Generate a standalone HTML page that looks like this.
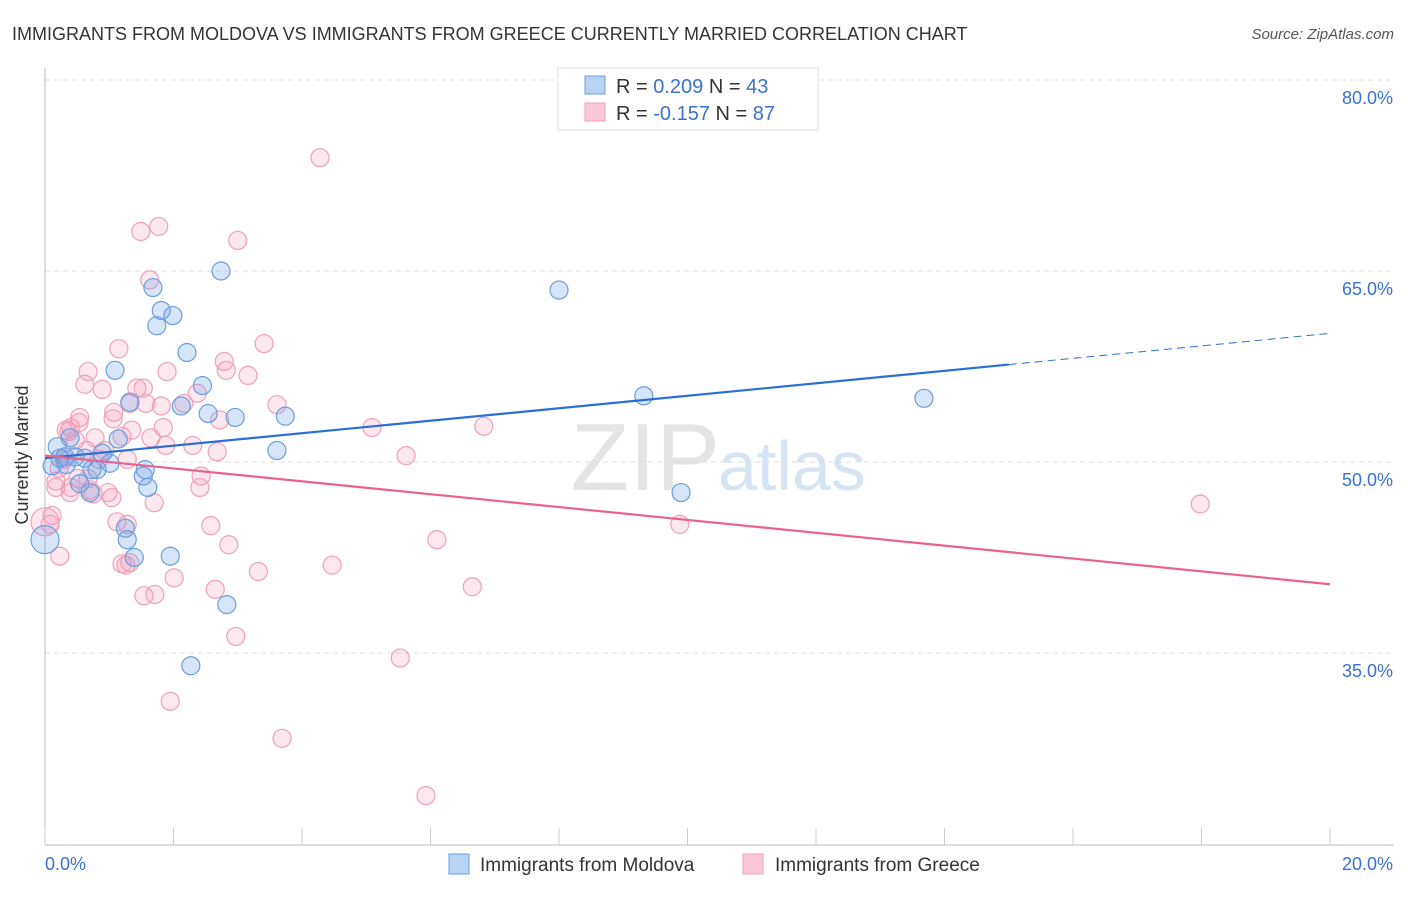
<!DOCTYPE html>
<html><head><meta charset="utf-8"><style>
body{margin:0;background:#fff;font-family:"Liberation Sans",sans-serif;}
svg text{font-family:"Liberation Sans",sans-serif;}
</style></head><body>
<svg id="chart" width="1406" height="892">
<text x="12" y="40" font-size="18" fill="#333">IMMIGRANTS FROM MOLDOVA VS IMMIGRANTS FROM GREECE CURRENTLY MARRIED CORRELATION CHART</text>
<text x="1394" y="39" font-size="15" fill="#555" font-style="italic" text-anchor="end">Source: ZipAtlas.com</text>
<text x="720" y="490" font-size="96" fill="#e4e4e4" text-anchor="end" font-family="Liberation Serif">ZIP</text>
<text x="718" y="490" font-size="70" fill="#d6e4f4">atlas</text>
<g id="grid"></g><g id="axes"></g><g id="pts"></g><g id="lines"></g>
<text x="28" y="455" font-size="18" fill="#333" text-anchor="middle" transform="rotate(-90 28 455)">Currently Married</text>
<g>
<rect x="558" y="68" width="260" height="62" fill="#fff" stroke="#ddd"/>
<rect x="585" y="76" width="20" height="18" fill="#b8d2f4" stroke="#6a9ee0"/>
<rect x="585" y="103" width="20" height="18" fill="#fcc8d8" stroke="#f0a0b8"/>
<text x="616" y="93" font-size="20" fill="#333">R = <tspan fill="#3a72d0">0.209</tspan>   N = <tspan fill="#3a72d0">43</tspan></text>
<text x="616" y="120" font-size="20" fill="#333">R = <tspan fill="#3a72d0">-0.157</tspan>   N = <tspan fill="#3a72d0">87</tspan></text>
</g>
<g>
<rect x="449" y="854" width="20" height="20" fill="#b8d2f4" stroke="#6a9ee0"/>
<text x="480" y="871" font-size="19" fill="#333">Immigrants from Moldova</text>
<rect x="743" y="854" width="20" height="20" fill="#fcc8d8" stroke="#f0a0b8"/>
<text x="775" y="871" font-size="19" fill="#333">Immigrants from Greece</text>
</g>
</svg>
<script>
const yTicks=[80,65,50,35];
const xTickLabels=["0.0%","20.0%"];
const blueX=[.19,.39,.23,.31,.47,.62,1.01,.81,.70,.54,1.14,1.09,1.32,1.56,1.53,1.60,1.68,1.74,1.81,1.99,2.21,2.45,2.12,2.54,2.96,2.74,3.74,3.61,1.25,1.28,1.39,1.95,2.83,2.27,8.0,9.32,9.90,13.68,0.0,.89,.11,.33,.73];
const blueY=[51.2,51.9,50.3,50.4,50.4,50.3,49.9,49.4,47.6,48.3,51.8,57.2,54.7,49.4,48.9,48.0,63.7,60.7,61.9,61.5,58.6,56.0,54.4,53.8,53.5,65.0,53.6,50.9,44.8,43.9,42.5,42.6,38.8,34.0,63.5,55.2,47.6,55.0,43.9,50.7,49.7,49.8,49.4];
const pinkX=[4.28,1.77,1.49,3.0,1.63,1.15,3.41,.67,.62,.89,1.43,1.53,1.32,1.57,1.07,1.06,.54,.53,.33,.40,.37,.78,.47,1.20,1.35,1.65,1.81,2.16,1.84,1.88,1.90,2.79,2.82,2.37,2.72,3.16,3.61,2.68,2.43,2.41,1.28,.93,.84,.98,.70,.39,.17,.17,.67,.40,.11,.08,.23,1.12,1.28,1.20,1.32,1.54,1.71,2.01,2.58,2.86,2.65,2.97,3.32,3.69,4.47,5.09,5.62,6.83,6.10,6.65,5.53,5.93,9.88,17.98,1.95,1.26,1.70,1.04,.51,.65,.22,.30,2.30,.75,0.0];
const pinkY=[73.9,68.5,68.1,67.4,64.3,58.9,59.3,57.1,56.1,55.7,55.8,55.8,54.6,54.6,53.9,53.4,53.5,53.1,52.5,52.7,52.4,51.9,51.7,52.0,52.5,51.9,54.4,54.6,52.7,51.3,57.1,57.9,57.2,55.4,53.3,56.8,54.5,50.8,48.9,48.0,50.2,50.9,50.2,47.6,47.8,47.6,48.5,48.0,48.7,48.0,45.8,45.1,42.6,45.3,45.1,42.0,42.1,39.5,39.6,40.9,45.0,43.5,40.0,36.3,41.4,28.3,41.9,52.7,50.5,52.8,43.9,40.2,34.6,23.8,45.1,46.7,31.2,41.9,46.8,47.2,48.7,50.9,49.5,50.2,51.3,47.5,45.3];
const blueTrend=[50.3,60.1];  // value at x=0 and x=20
const pinkTrend=[50.5,40.4];
const NS="http://www.w3.org/2000/svg";
const sx=v=>45+v*64.25, sy=v=>80+(80-v)*12.733;
function mk(tag,attrs,parent){const e=document.createElementNS(NS,tag);for(const k in attrs)e.setAttribute(k,attrs[k]);document.getElementById(parent).appendChild(e);return e;}
yTicks.forEach(t=>{
 const l=mk('line',{x1:45,x2:1394,y1:sy(t),y2:sy(t),stroke:'#ddd','stroke-dasharray':'5,4'},'grid');
 
 
 const tx=mk('text',{x:1393,y:sy(t)+24,'font-size':18,fill:'#3a72d0','text-anchor':'end'},'grid');
 tx.textContent=t.toFixed(1)+'%';
 
 
});
const ax=mk('line',{x1:45,x2:1394,y1:845,y2:845,stroke:'#bbb'},'axes');


const ay=mk('line',{x1:45,x2:45,y1:68,y2:845,stroke:'#bbb'},'axes');


for(let i=0;i<=10;i++){
 const t=mk('line',{x1:sx(i*2),x2:sx(i*2),y1:828,y2:845,stroke:'#ccc'},'axes');
 
 
}
[[0,'start'],[20,'end']].forEach((p,i)=>{
 const t=mk('text',{x:p[0]===0?45:1393,y:870,'font-size':18,fill:'#3a72d0','text-anchor':p[1]},'axes');
 t.textContent=xTickLabels[i];
 
 
});
function dots(X,Y,fill,stroke,name){X.forEach((x,i)=>{
 const big=(x===0);
 const c=mk('circle',{cx:sx(x),cy:sy(Y[i]),r:big?14:9,fill:fill,stroke:stroke,'stroke-width':1.2},'pts');
 
 
});}
dots(pinkX,pinkY,'rgba(245,150,180,0.22)','#f0a0b8','point-greece');
dots(blueX,blueY,'rgba(110,160,230,0.28)','#6a9ee0','point-moldova');
const bAt=x=>blueTrend[0]+(blueTrend[1]-blueTrend[0])*x/20;
const l1=mk('line',{x1:sx(0),y1:sy(bAt(0)),x2:sx(15),y2:sy(bAt(15)),stroke:'#2b6fd6','stroke-width':2.2},'lines');


const l2=mk('line',{x1:sx(15),y1:sy(bAt(15)),x2:sx(20),y2:sy(bAt(20)),stroke:'#2b6fd6','stroke-width':1,'stroke-dasharray':'8,5'},'lines');


const l3=mk('line',{x1:sx(0),y1:sy(pinkTrend[0]),x2:sx(20),y2:sy(pinkTrend[1]),stroke:'#e8638f','stroke-width':2.2},'lines');


</script>
</body></html>
